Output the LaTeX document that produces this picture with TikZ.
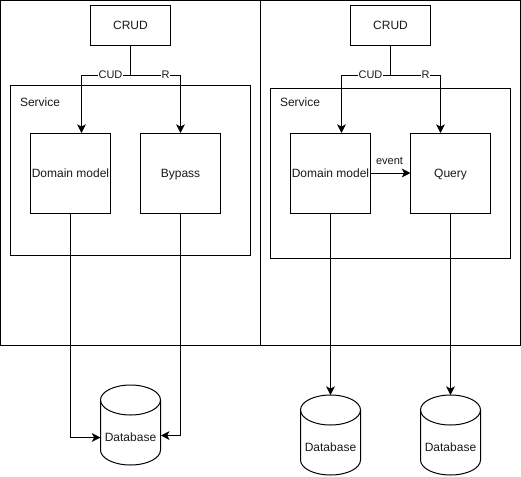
\documentclass[tikz,border=0pt]{standalone}
\usepackage{fontspec}
\setmainfont{Liberation Sans}
\usetikzlibrary{arrows.meta,calc}
\definecolor{inkc}{HTML}{000000}
\definecolor{txtc}{HTML}{1A1A1A}
\tikzset{
  px/.style={x=0.75pt,y=-0.75pt},
  stroke/.style={draw=inkc,line width=0.75pt},
  frame/.style={stroke,rectangle,inner sep=0pt,outer sep=0pt},
  cardbox/.style={frame,minimum width=60pt,minimum height=60pt,align=center,text=txtc,text height=8pt,text depth=2pt,font=\fontsize{9pt}{11pt}\selectfont},
  crudbox/.style={frame,minimum width=60pt,minimum height=30pt,text=txtc,text height=8pt,text depth=2pt,font=\fontsize{9pt}{11pt}\selectfont},
  servicebox/.style={frame,minimum width=180pt,minimum height=127.5pt},
  panelbox/.style={frame,minimum width=195pt,minimum height=258.4pt},
  dbbox/.style={rectangle,inner sep=0pt,outer sep=0pt,minimum width=45pt,minimum height=60pt},
  plain/.style={text=txtc,inner sep=0pt,text height=8pt,text depth=2pt,font=\fontsize{9pt}{11pt}\selectfont},
  lbl/.style={text=txtc,fill=white,inner sep=0.3pt,yshift=0.9pt,text height=7.6pt,text depth=2pt,font=\fontsize{8.25pt}{10pt}\selectfont},
  conn/.style={stroke},
  arrowconn/.style={stroke,-{Stealth[length=6.5pt,width=6.5pt,inset=1.7pt]}},
}
\newcommand{\cylpath}[1]{%
  \draw[stroke] ($(#1.north west)+(0,15)$) arc[start angle=180,end angle=0,x radius=22.5pt,y radius=11.25pt]
    -- ($(#1.south east)+(0,-15)$) arc[start angle=0,end angle=-180,x radius=22.5pt,y radius=11.25pt] -- cycle;
  \draw[stroke] ($(#1.north west)+(0,15)$) arc[start angle=180,end angle=360,x radius=22.5pt,y radius=11.25pt];
}
\begin{document}
\begin{tikzpicture}[px]
\useasboundingbox[fill=white] (0,0) rectangle (521,476);

% panels
\node[panelbox] (panelL) at (130.5,172.8) {};
\node[panelbox] (panelR) at (390.5,172.8) {};

% left side
\node[crudbox] (crudL) at (130.5,25.5) {CRUD};
\node[servicebox] (svcL) at (130.5,170.5) {};
\node[plain,anchor=west] (svcLt) at (19.8,102.5) {Service};
\node[cardbox] (domL) at (70.5,173) {Domain model};
\node[cardbox] (byp) at (180.5,173) {Bypass};
\node[dbbox] (dbL) at (130.5,425) {};
\cylpath{dbL}
\node[plain] (dbLt) at (130.5,437.5) {Database};

% right side
\node[crudbox] (crudR) at (390.5,25.5) {CRUD};
\node[servicebox] (svcR) at (390.5,173) {};
\node[plain,anchor=west] (svcRt) at (279.8,102.5) {Service};
\node[cardbox] (domR) at (330.5,173) {Domain model};
\node[cardbox] (qry) at (450.5,173) {Query};
\node[dbbox] (dbA) at (330.5,435) {};
\cylpath{dbA}
\node[plain] (dbAt) at (330.5,447.5) {Database};
\node[dbbox] (dbB) at (450.5,435) {};
\cylpath{dbB}
\node[plain] (dbBt) at (450.5,447.5) {Database};

% named connector points
\coordinate (jL) at (130.5,75.5);
\coordinate (jR) at (390.5,75.5);
\coordinate (cudL) at (81.5,133);
\coordinate (rL) at (180.5,133);
\coordinate (cudR) at (341.5,133);
\coordinate (rR) at (440.5,133);
\coordinate (inA) at (100.5,437.5);
\coordinate (inB) at (160.8,435.5);

% connectors left
\draw[conn] (crudL.south) -- (jL);
\draw[arrowconn] (jL) -| node[lbl,pos=0.204] (lblCUDL) {CUD} (cudL);
\draw[arrowconn] (jL) -| node[lbl,pos=0.35] (lblRL) {R} (rL);
\draw[arrowconn] (domL.south) |- (inA);
\draw[arrowconn] (byp.south) |- (inB);

% connectors right
\draw[conn] (crudR.south) -- (jR);
\draw[arrowconn] (jR) -| node[lbl,pos=0.204] (lblCUDR) {CUD} (cudR);
\draw[arrowconn] (jR) -| node[lbl,pos=0.35] (lblRR) {R} (rR);
\draw[arrowconn] (domR.east) -- (qry.west);
\node[text=txtc,inner sep=0pt,text height=7.6pt,text depth=2pt,font=\fontsize{8.25pt}{10pt}\selectfont] (evt) at (389.5,161) {event};
\draw[arrowconn] (domR.south) -- (domR.south |- dbA.north);
\draw[arrowconn] (qry.south) -- (dbB.north);
\end{tikzpicture}
\end{document}
